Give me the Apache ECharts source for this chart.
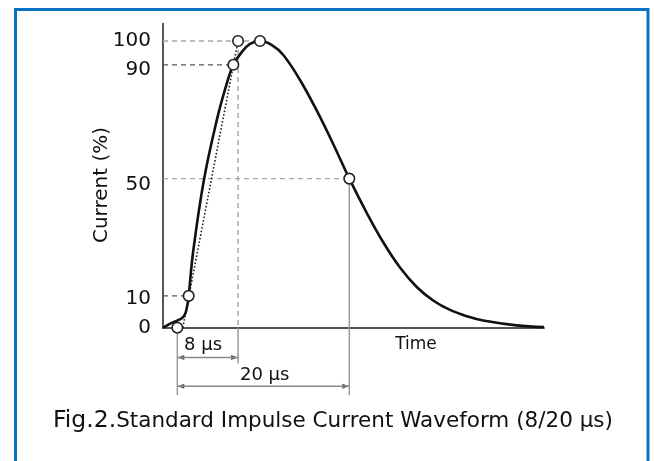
<!DOCTYPE html>
<html><head><meta charset="utf-8">
<script src="https://cdn.jsdelivr.net/npm/echarts@6/dist/echarts.min.js"></script>
<style>html,body{margin:0;padding:0;background:#fff}#c{width:654px;height:461px}</style>
</head><body><div id="c"></div>
<script>
// Schematic 8/20 μs impulse waveform (time in μs, current in %)
const curveT = [0, 1.0, 2.67, 3.24, 3.37, 3.98, 5.38, 7.05, 8.23, 9.23, 10.33, 11.42, 12.73, 14.3, 15.79, 17.98, 20.2, 22.35, 24.45, 26.75, 28.9, 31.1, 33.3, 35.5, 37.66, 40.0, 42.03, 46.4, 50];
const curveI = [0, 1.5, 3.8, 8.4, 11.1, 27, 51.7, 72.3, 83.9, 91.7, 96.1, 99, 100, 98.6, 95.1, 86.4, 75.6, 64.0, 52.0, 40.0, 29.8, 21.0, 14.2, 9.4, 6.2, 3.9, 2.5, 0.8, 0.2];

// marked points: virtual origin, 10 %, 90 %, 100 % (front line), peak, 50 % (tail)
const markerT = [1.88, 3.37, 9.23, 9.85, 12.73, 24.45];
const markerI = [0, 11.1, 91.7, 100, 100, 52.0];

// straight front line through 10 % and 90 %
const frontT = [2.6, 9.85];
const frontI = [0, 100];

// y-axis tick labels
const yTicks = [0, 10, 50, 90, 100];

// dashed horizontal guides: current level, end time, dark?
const hGuideI = [100, 91.7, 52.0, 11.1];
const hGuideT = [12.73, 9.23, 24.45, 3.37];
const hGuideDark = [false, true, false, true];

// duration annotations
const spanStart = [1.88, 1.88];
const spanEnd = [9.85, 24.45];
const spanLabel = ['8 μs', '20 μs'];
const spanLevel = [-10.4, -20.4];
const spanLabelT = [5.25, 13.35];
const spanLabelI = [-6, -16.5];

const xName = 'Time';
const xNameT = 33.2, xNameI = -6;
const yName = 'Current (%)';
const caption1 = 'Fig.2.';
const caption2 = 'Standard Impulse Current Waveform (8/20 μs)';

const chart = echarts.init(document.getElementById('c'), null, {renderer: 'canvas'});
const FONT = 'DejaVu Sans';

const series = [];
// horizontal guides
hGuideI.forEach((v, i) => {
  series.push({
    type: 'line', silent: true, symbol: 'none', z: 1,
    data: [[0, v], [hGuideT[i], v]],
    lineStyle: {color: hGuideDark[i] ? '#555' : '#a8a8a8', width: 1.3, type: [5, 4]}
  });
});
// vertical dashed guide at 100 % front point
series.push({
  type: 'line', silent: true, symbol: 'none', z: 1,
  data: [[markerT[3], markerI[3]], [markerT[3], 0]],
  lineStyle: {color: '#a8a8a8', width: 1.5, type: [5, 4]}
});
// vertical solid extension lines (below axis)
const vLines = [[markerT[3], 0, -12.5], [markerT[0], 0, -23.5], [markerT[5], markerI[5], -23.5]];
vLines.forEach(v => {
  series.push({
    type: 'line', silent: true, symbol: 'none', z: 1, clip: false,
    data: [[v[0], v[1]], [v[0], v[2]]],
    lineStyle: {color: '#9a9a9a', width: 1.5}
  });
});
// arrow shafts
spanStart.forEach((s, i) => {
  series.push({
    type: 'line', silent: true, symbol: 'none', z: 1, clip: false,
    data: [[s, spanLevel[i]], [spanEnd[i], spanLevel[i]]],
    lineStyle: {color: '#8a8a8a', width: 1.5}
  });
});
// front dotted line
series.push({
  type: 'line', silent: true, symbol: 'none', z: 2,
  data: frontT.map((t, i) => [t, frontI[i]]),
  lineStyle: {color: '#222', width: 1.6, type: [1.6, 2]}
});
// main waveform
series.push({
  type: 'line', silent: true, symbol: 'none', smooth: 0.4, z: 3,
  data: curveT.map((t, i) => [t, curveI[i]]),
  lineStyle: {color: '#111', width: 2.6}
});
// markers
series.push({
  type: 'scatter', silent: true, z: 5, symbol: 'circle', symbolSize: 10.5,
  data: markerT.map((t, i) => [t, markerI[i]]),
  itemStyle: {color: '#fff', borderColor: '#222', borderWidth: 1.6, opacity: 1}
});

chart.setOption({
  animation: false,
  backgroundColor: '#fff',
  grid: {left: 163, right: 110, top: 23.8, bottom: 133.3, containLabel: false},
  xAxis: {
    type: 'value', min: 0, max: 50,
    axisLine: {show: true, onZero: false, lineStyle: {color: '#555', width: 2}},
    axisTick: {show: false}, axisLabel: {show: false}, splitLine: {show: false}
  },
  yAxis: {
    type: 'value', min: 0, max: 106,
    axisLine: {show: true, onZero: false, lineStyle: {color: '#555', width: 2}},
    axisTick: {show: false}, splitLine: {show: false},
    axisLabel: {customValues: yTicks, fontSize: 20, color: '#111', margin: 12, fontFamily: FONT}
  },
  series: series
});

function px(t, v) { return chart.convertToPixel({gridIndex: 0}, [t, v]); }

const g = [];
// blue frame
g.push({type: 'rect', shape: {x: 15.5, y: 9.5, width: 632.5, height: 480}, style: {fill: 'none', stroke: '#0a72c2', lineWidth: 3}, z: 10});
// arrow heads + labels
spanStart.forEach((s, i) => {
  const a = px(s, spanLevel[i]);
  const b = px(spanEnd[i], spanLevel[i]);
  g.push({type: 'polygon', shape: {points: [[a[0], a[1]], [a[0] + 7, a[1] - 2.5], [a[0] + 7, a[1] + 2.5]]}, style: {fill: '#555'}});
  g.push({type: 'polygon', shape: {points: [[b[0], b[1]], [b[0] - 7, b[1] - 2.5], [b[0] - 7, b[1] + 2.5]]}, style: {fill: '#555'}});
  const p = px(spanLabelT[i], spanLabelI[i]);
  g.push({type: 'text', x: p[0], y: p[1], style: {text: spanLabel[i], fontSize: 18, fontFamily: FONT, fill: '#111', align: 'center', verticalAlign: 'middle'}});
});
const tp = px(xNameT, xNameI);
g.push({type: 'text', x: tp[0], y: tp[1], style: {text: xName, fontSize: 17, fontFamily: FONT, fill: '#111', align: 'center', verticalAlign: 'middle'}});
// y axis name
g.push({type: 'text', x: 102, y: 185, rotation: Math.PI / 2, style: {text: yName, fontSize: 20, fontFamily: FONT, fill: '#111', align: 'center', verticalAlign: 'middle'}});
// caption
g.push({type: 'text', x: 53, y: 421, style: {
  text: '{a|' + caption1 + '}{b|' + caption2 + '}', align: 'left', verticalAlign: 'middle',
  rich: {a: {fontSize: 23.5, fontFamily: FONT, fill: '#111'}, b: {fontSize: 21.5, fontFamily: FONT, fill: '#111'}}
}});
chart.setOption({graphic: {elements: g}});
</script>
</body></html>
